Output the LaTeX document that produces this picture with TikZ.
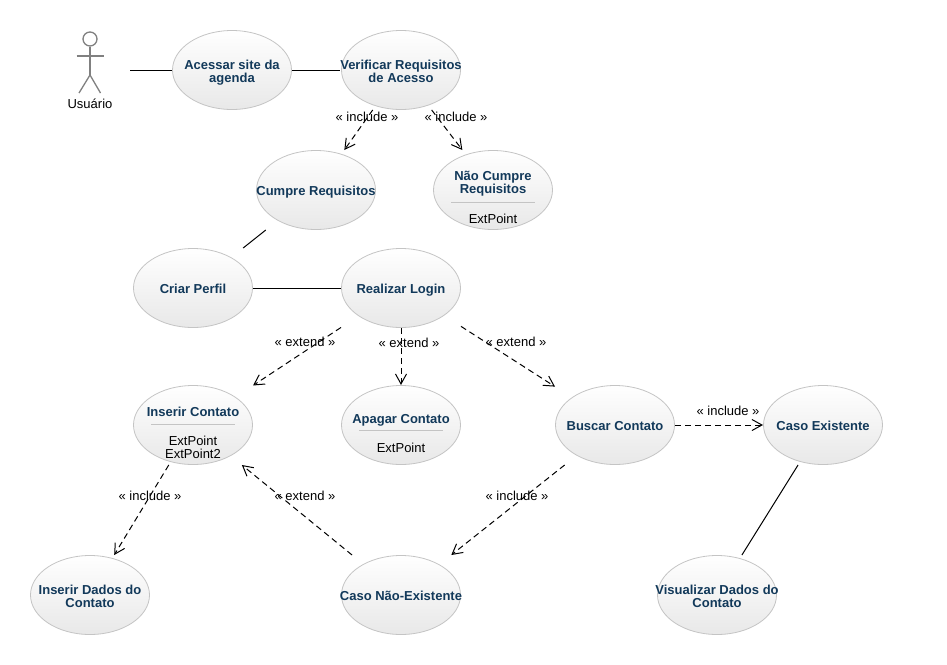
\documentclass[tikz,border=0pt]{standalone}
\usepackage{fontspec}
\setmainfont{Liberation Sans}
\usetikzlibrary{arrows.meta}
\newcommand{\linha}{\rule[-3pt]{0pt}{17pt}}
\newcommand{\linhab}{\rule[-3pt]{0pt}{13pt}}

\begin{document}
\begin{tikzpicture}[x=1pt, y=-1pt, >={Straight Barb[length=10pt,width=11pt]}, thick]
	\tikzstyle{usecase}=[rectangle, minimum width=120pt, minimum height=80pt, inner sep=0pt, outer sep=0pt, align=center, text=tituloazul, font=\fontsize{13}{13}\selectfont\bfseries, path picture={\shadedraw[draw=bordacinza, line width=0.8pt, top color=white, bottom color=fundocinza] (path picture bounding box.center) ellipse (59.5pt and 39.5pt);}]
	\tikzstyle{titulo}=[inner sep=0pt, align=center, text=tituloazul, font=\fontsize{13}{13}\selectfont\bfseries]
	\tikzstyle{rotulo}=[inner sep=0pt, yshift=-1pt, align=center, font=\fontsize{13}{13}\selectfont]
	\tikzstyle{assoc}=[-, line width=1pt]
	\tikzstyle{dep}=[->, line width=1pt, dash pattern=on 6pt off 4pt]
	\tikzstyle{sep}=[-, draw=bordacinza, line width=0.7pt]
	\tikzstyle{boneco}=[-, draw=black!50, line width=1.3pt]
	\definecolor{tituloazul}{HTML}{12395A}
	\definecolor{bordacinza}{HTML}{C4C4C4}
	\definecolor{fundocinza}{HTML}{E8E8E8}

	\useasboundingbox (0,0) rectangle (947,664);

	% Ator
	\node[minimum width=80pt, minimum height=80pt, inner sep=0pt, outer sep=0pt] (usuario) at (90,70) {};
	\node[boneco, circle, draw, minimum size=14pt, inner sep=0pt] (cabeca) at (90,39) {};
	\coordinate (quadril) at (90,75);
	\coordinate (maoE) at (76.5,56);
	\coordinate (maoD) at (104,56);
	\coordinate (peE) at (79,93);
	\coordinate (peD) at (100.5,93);
	\draw[boneco] (cabeca) -- (quadril);
	\draw[boneco] (maoE) -- (maoD);
	\draw[boneco] (peE) -- (quadril) -- (peD);
	\node[rotulo] (usuarioT) at (90,103) {Usuário};

	% Casos de uso, primeira parte
	\node[usecase] (acessar) at (232,70) {\linha Acessar site da\\\linhab agenda};
	\node[usecase] (verificar) at (401,70) {\linha Verificar Requisitos\\\linhab de Acesso};
	\node[usecase] (cumpre) at (316,190) {\linha Cumpre Requisitos};
	\node[usecase] (naocumpre) at (493,190) {};
	\node[usecase] (criar) at (193,288) {\linha Criar Perfil};
	\node[usecase] (login) at (401,288) {\linha Realizar Login};

	% Casos de uso, segunda parte
	\node[usecase] (inserir) at (193,425) {};
	\node[usecase] (apagar) at (401,425) {};
	\node[usecase] (buscar) at (615,425) {\linha Buscar Contato};
	\node[usecase] (existente) at (823,425) {\linha Caso Existente};
	\node[usecase] (dados) at (90,595) {\linha Inserir Dados do\\\linhab Contato};
	\node[usecase] (naoexistente) at (401,595) {\linha Caso Não-Existente};
	\node[usecase] (visualizar) at (717,595) {\linha Visualizar Dados do\\\linhab Contato};

	% Compartimentos com ExtPoint
	\node[titulo] (naocumpreT) at (493,181) {\linha Não Cumpre\\\linhab Requisitos};
	\draw[sep] ([xshift=-42pt,yshift=-12.5pt]naocumpre.center) -- ([xshift=42pt,yshift=-12.5pt]naocumpre.center);
	\node[rotulo] (naocumpreE) at (493,218) {ExtPoint};
	\node[titulo] (inserirT) at (193,411) {\linha Inserir Contato};
	\draw[sep] ([xshift=-42pt,yshift=1pt]inserir.center) -- ([xshift=42pt,yshift=1pt]inserir.center);
	\node[rotulo] (inserirE) at (193,446.5) {ExtPoint\\ExtPoint2};
	\node[titulo] (apagarT) at (401,417.5) {\linha Apagar Contato};
	\draw[sep] ([xshift=-42pt,yshift=-5.5pt]apagar.center) -- ([xshift=42pt,yshift=-5.5pt]apagar.center);
	\node[rotulo] (apagarE) at (401,446.5) {ExtPoint};

	% Associacoes
	\draw (usuario) edge[assoc] (acessar);
	\draw (acessar) edge[assoc] (verificar);
	\draw (cumpre) edge[assoc] (criar);
	\draw (criar) edge[assoc] (login);
	\draw (existente) edge[assoc] (visualizar);

	% Dependencias
	\draw (verificar) edge[dep] (cumpre);
	\draw (verificar) edge[dep] (naocumpre);
	\draw (login) edge[dep] (inserir);
	\draw (login) edge[dep] (apagar);
	\draw (login) edge[dep] (buscar);
	\draw (buscar) edge[dep] (existente);
	\draw (buscar) edge[dep] (naoexistente);
	\draw (inserir) edge[dep] (dados);
	\draw (naoexistente) edge[dep] (inserir);

	% Rotulos
	\node[rotulo] (inc1) at (367,116) {« include »};
	\node[rotulo] (inc2) at (456,116) {« include »};
	\node[rotulo] (ext1) at (305,341) {« extend »};
	\node[rotulo] (ext2) at (409,342) {« extend »};
	\node[rotulo] (ext3) at (516,341) {« extend »};
	\node[rotulo] (inc3) at (728,410) {« include »};
	\node[rotulo] (inc4) at (150,495) {« include »};
	\node[rotulo] (ext4) at (305,495) {« extend »};
	\node[rotulo] (inc5) at (517,495) {« include »};
\end{tikzpicture}
\end{document}
